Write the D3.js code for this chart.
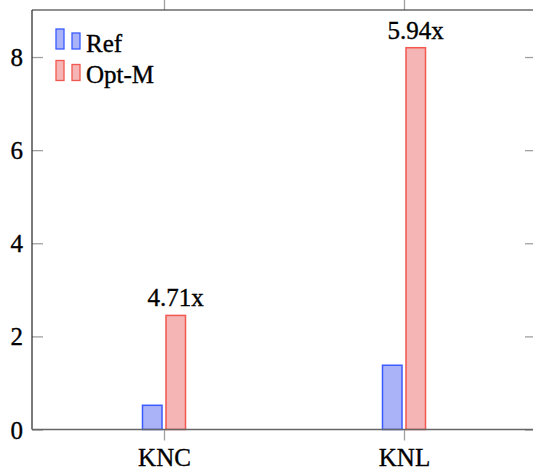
<!DOCTYPE html>
<html><head><meta charset="utf-8">
<script src="https://cdn.jsdelivr.net/npm/d3@7/dist/d3.min.js"></script>
<style>
html,body{margin:0;padding:0;background:#fff;}
svg{display:block;}
</style></head>
<body>
<script>
const categories = ["KNC", "KNL"];
const seriesNames = ["Ref", "Opt-M"];
const refValues = [0.52, 1.38];
const optValues = [2.45, 8.2];
const speedupLabels = ["4.71x", "5.94x"];
const yTicks = [0, 2, 4, 6, 8];

(function () {
const W = 533, H = 470;
const pL = 32, pR = 536, pT = 10, pB = 429.5;
const fontSize = 25;
const serif = "'Liberation Serif', 'Times New Roman', 'DejaVu Serif', serif";

const svg = d3.select("body").append("svg").attr("width", W).attr("height", H);

const x = d3.scalePoint().domain(categories).range([pL, pR]).padding(0.55);
const xs = d3.scaleBand().domain(seriesNames).range([-21.5, 21.5]).paddingInner(0.17);
const y = d3.scaleLinear().domain([0, 9.01]).range([pB, pT]);

const colors = {
  "Ref": {fill: "#aab3f7", stroke: "#3a5bff"},
  "Opt-M": {fill: "#f4b5b4", stroke: "#f2584f"}
};
const tickColor = "#a0a0a0";

const data = [];
categories.forEach((c, i) => {
  data.push({cat: c, s: "Ref", v: refValues[i]});
  data.push({cat: c, s: "Opt-M", v: optValues[i]});
});
svg.append("g").selectAll("rect").data(data).join("rect")
  .attr("x", d => x(d.cat) + xs(d.s))
  .attr("width", xs.bandwidth())
  .attr("y", d => y(d.v))
  .attr("height", d => y(0) - y(d.v))
  .attr("fill", d => colors[d.s].fill)
  .attr("stroke", d => colors[d.s].stroke)
  .attr("stroke-width", 1.5);

svg.append("g").selectAll("text").data(categories).join("text")
  .attr("x", (c) => x(c) + xs("Opt-M") + xs.bandwidth() / 2)
  .attr("y", (c, i) => y(optValues[i]) - 9)
  .attr("text-anchor", "middle")
  .text((c, i) => speedupLabels[i]);

function styleAxis(g) {
  g.select(".domain").remove();
  g.selectAll(".tick line").attr("stroke", tickColor).attr("stroke-width", 1.3);
}

const gL = svg.append("g").attr("transform", `translate(${pL},0)`)
  .call(d3.axisLeft(y).tickValues(yTicks).tickSize(-11).tickPadding(9).tickFormat(d3.format("d")));
styleAxis(gL);
gL.selectAll("text").attr("dy", "0.34em");

const gR = svg.append("g").attr("transform", `translate(${pR},0)`)
  .call(d3.axisRight(y).tickValues(yTicks).tickSize(-11).tickFormat(""));
styleAxis(gR);

const gT = svg.append("g").attr("transform", `translate(0,${pT})`)
  .call(d3.axisTop(x).tickSize(10).tickFormat(""));
styleAxis(gT);

const gB = svg.append("g").attr("transform", `translate(0,${pB})`)
  .call(d3.axisBottom(x).tickSize(11));
styleAxis(gB);
gB.selectAll("text").attr("y", 36.5).attr("dy", 0);

svg.append("line").attr("x1", pL).attr("x2", pL).attr("y1", pT).attr("y2", pB)
  .attr("stroke", "#222").attr("stroke-width", 1.2);
svg.append("line").attr("x1", pL).attr("x2", pR).attr("y1", pT).attr("y2", pT)
  .attr("stroke", "#222").attr("stroke-width", 1.2);
svg.append("line").attr("x1", pR).attr("x2", pR).attr("y1", pT).attr("y2", pB)
  .attr("stroke", "#222").attr("stroke-width", 1.2);
svg.append("line").attr("x1", pL).attr("x2", pR).attr("y1", pB).attr("y2", pB)
  .attr("stroke", "#666").attr("stroke-width", 1.4);

const legend = svg.append("g");
seriesNames.forEach((s, i) => {
  const gy = 29 + i * 31.5;
  const g = legend.append("g").attr("transform", `translate(56,${gy})`);
  g.append("rect").attr("x", 0).attr("y", 0).attr("width", 8).attr("height", 20)
    .attr("fill", colors[s].fill).attr("stroke", colors[s].stroke).attr("stroke-width", 1.3);
  g.append("rect").attr("x", 16).attr("y", 4).attr("width", 8).attr("height", 16)
    .attr("fill", colors[s].fill).attr("stroke", colors[s].stroke).attr("stroke-width", 1.3);
  g.append("text").attr("x", 30).attr("y", 22.5).text(s);
});

svg.selectAll("g").attr("font-family", null).attr("font-size", null);
svg.selectAll("text")
  .style("font-family", serif)
  .style("font-size", fontSize + "px")
  .style("fill", "#000")
  .style("stroke", "#000")
  .style("stroke-width", "0.35px");
})();
</script>
</body></html>
